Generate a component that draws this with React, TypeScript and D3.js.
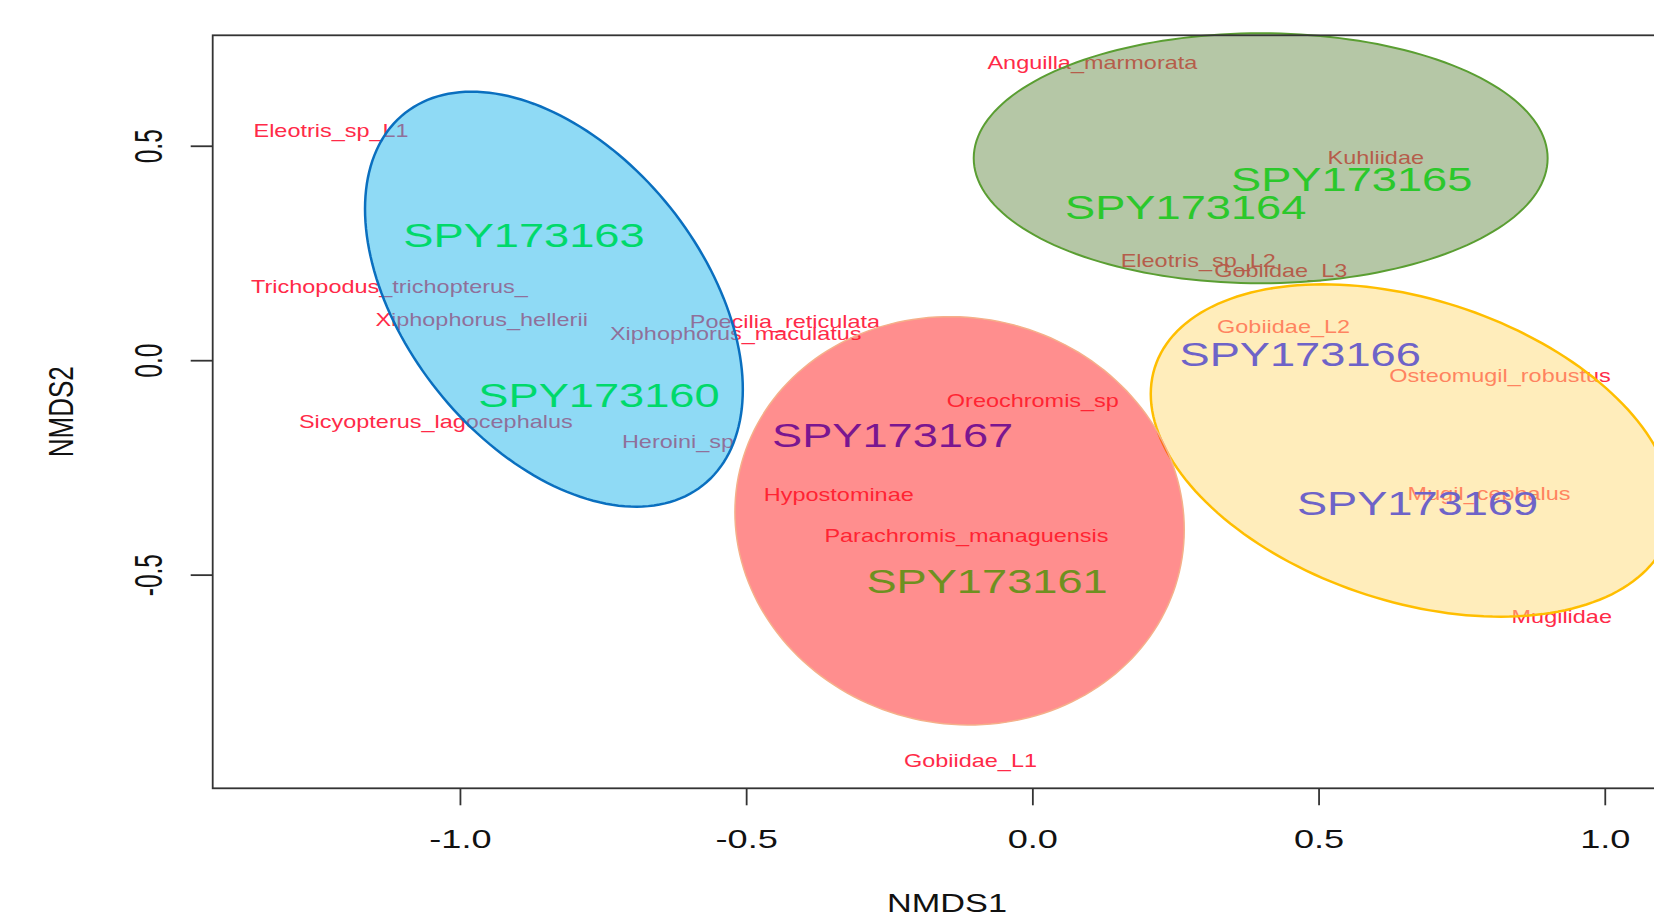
import React from "react";
import * as d3 from "d3";

// ---------- data ----------
const speciesNames = [
  "Eleotris_sp_L1", "Trichopodus_trichopterus_", "Xiphophorus_hellerii", "Sicyopterus_lagocephalus",
  "Xiphophorus_maculatus", "Poecilia_reticulata", "Heroini_sp", "Anguilla_marmorata",
  "Eleotris_sp_L2", "Gobiidae_L3", "Kuhliidae", "Gobiidae_L2", "Osteomugil_robustus",
  "Oreochromis_sp", "Hypostominae", "Parachromis_managuensis", "Gobiidae_L1",
  "Mugil_cephalus", "Mugilidae",
];
const speciesX = [
  -1.226, -1.124, -0.963, -1.043, -0.519, -0.433, -0.620, 0.104,
  0.289, 0.433, 0.599, 0.438, 0.816, 0.0, -0.339, -0.116, -0.109, 0.797, 0.924,
];
const speciesY = [
  0.537, 0.172, 0.096, -0.143, 0.062, 0.091, -0.189, 0.694,
  0.234, 0.211, 0.473, 0.079, -0.036, -0.094, -0.312, -0.409, -0.933, -0.311, -0.597,
];

const siteNames = ["SPY173163", "SPY173160", "SPY173165", "SPY173164", "SPY173166", "SPY173167", "SPY173161", "SPY173169"];
const siteX = [-0.889, -0.758, 0.557, 0.267, 0.467, -0.245, -0.080, 0.672];
const siteY = [0.293, -0.080, 0.423, 0.357, 0.015, -0.174, -0.515, -0.333];
const siteColors = ["#00D96A", "#00D96A", "#2BC82B", "#2BC82B", "#6E63C8", "#7A1690", "#6E9020", "#6E63C8"];

// ellipses (data units): centre, half ranges, correlation
const ellipseCX = [-0.8367, 0.398, 0.662, -0.128];
const ellipseCY = [0.1434, 0.472, -0.2094, -0.3733];
const ellipseRX = [0.330, 0.5013, 0.456, 0.3925];
const ellipseRY = [0.4838, 0.2914, 0.3875, 0.476];
const ellipseRho = [-0.435, 0.0, -0.34, -0.043];
const ellipseFill = ["#1FB5EB", "#6B8F4D", "#FFDB77", "#FF1D1D"];
const ellipseStroke = ["#0A6FBF", "#5A9E32", "#FFBE00", "#F5B08A"];
const ellipseStrokeW = [2.5, 2, 2.5, 1.5];

const xTicks = [-1.0, -0.5, 0.0, 0.5, 1.0];
const yTicks = [-0.5, 0.0, 0.5];

// ---------- layout ----------
const W = 1654;
const H = 919;
const left = 212.7;
const right = 1681;
const top = 35.3;
const bottom = 788.3;

const FONT = "'Liberation Sans', Arial, Helvetica, sans-serif";
const SPECIES_COLOR = "#FF2A48";

export default function App() {
  const x = d3.scaleLinear().domain([-1.4328, 1.1323]).range([left, right]);
  const y = d3.scaleLinear().domain([-0.997, 0.7587]).range([bottom, top]);

  const ts = d3.range(0, 361, 2).map((d) => (d * Math.PI) / 180);
  const line = d3
    .line<[number, number]>()
    .x((d) => x(d[0]))
    .y((d) => y(d[1]))
    .curve(d3.curveLinearClosed);

  const ellipsePath = (i: number) => {
    const delta = Math.acos(ellipseRho[i]);
    const pts: [number, number][] = ts.map((t) => [
      ellipseCX[i] + ellipseRX[i] * Math.cos(t),
      ellipseCY[i] + ellipseRY[i] * Math.cos(t - delta),
    ]);
    return line(pts) || "";
  };

  const axisColor = "#333";

  return (
    <svg
      width={W}
      height={H}
      style={{ position: "absolute", left: 0, top: 0, background: "#fff" }}
      fontFamily={FONT}
    >
      <rect x={0} y={0} width={W} height={H} fill="#fff" />

      {/* species labels (under the translucent ellipses) */}
      {speciesNames.map((n, i) => (
        <text
          key={n}
          transform={`translate(${x(speciesX[i])},${y(speciesY[i])}) scale(1.34,1)`}
          textAnchor="middle"
          dy="0.36em"
          fontSize={17.5}
          fill={SPECIES_COLOR}
        >
          {n}
        </text>
      ))}

      {/* ellipses */}
      {ellipseCX.map((_, i) => (
        <path
          key={"e" + i}
          d={ellipsePath(i)}
          fill={ellipseFill[i]}
          fillOpacity={0.5}
          stroke={ellipseStroke[i]}
          strokeWidth={ellipseStrokeW[i]}
        />
      ))}

      {/* site labels */}
      {siteNames.map((n, i) => (
        <text
          key={n}
          transform={`translate(${x(siteX[i])},${y(siteY[i])}) scale(1.37,1)`}
          textAnchor="middle"
          dy="0.36em"
          fontSize={33}
          fill={siteColors[i]}
        >
          {n}
        </text>
      ))}

      {/* box */}
      <rect
        x={left}
        y={top}
        width={right - left}
        height={bottom - top}
        fill="none"
        stroke={axisColor}
        strokeWidth={1.8}
      />

      {/* x axis */}
      {xTicks.map((t) => (
        <g key={"xt" + t}>
          <line x1={x(t)} x2={x(t)} y1={bottom} y2={bottom + 17} stroke={axisColor} strokeWidth={1.8} />
          <text
            transform={`translate(${x(t)},${848}) scale(1.39,1)`}
            textAnchor="middle"
            fontSize={26}
            fill="#111"
          >
            {t.toFixed(1)}
          </text>
        </g>
      ))}

      {/* y axis */}
      {yTicks.map((t) => (
        <g key={"yt" + t}>
          <line x1={left - 22} x2={left} y1={y(t)} y2={y(t)} stroke={axisColor} strokeWidth={1.8} />
          <text
            transform={`translate(${161.5},${y(t)}) scale(1.6,1) rotate(-90)`}
            textAnchor="middle"
            fontSize={24.5}
            fill="#111"
          >
            {t.toFixed(1)}
          </text>
        </g>
      ))}

      {/* axis titles */}
      <text
        transform={`translate(${947},${912}) scale(1.37,1)`}
        textAnchor="middle"
        fontSize={25}
        fill="#111"
      >
        NMDS1
      </text>
      <text
        transform={`translate(${72.5},${411.7}) scale(1.36,1) rotate(-90)`}
        textAnchor="middle"
        fontSize={26}
        fill="#111"
      >
        NMDS2
      </text>
    </svg>
  );
}
